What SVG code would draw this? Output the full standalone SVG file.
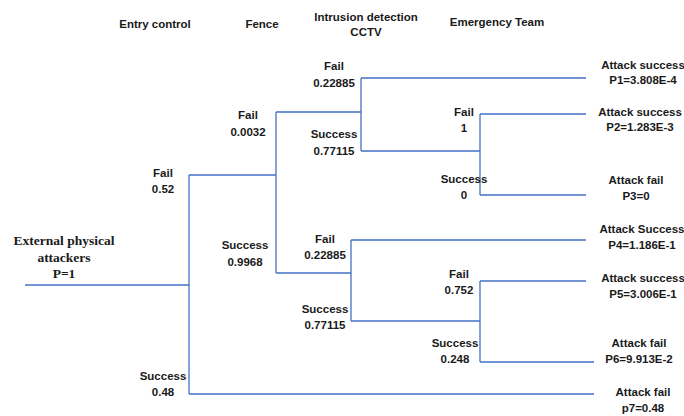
<svg xmlns="http://www.w3.org/2000/svg" width="684" height="416" viewBox="0 0 684 416">
<style>
.t{font-family:"Liberation Sans",Arial,sans-serif;font-weight:bold;font-size:11.5px;fill:#1a1a1a;text-anchor:middle}
.s{font-family:"Liberation Serif","Times New Roman",serif;font-weight:bold;font-size:13.5px;fill:#1a1a1a;text-anchor:middle}
.c{fill:none;stroke:#4472C4;stroke-width:1.3}
</style>
<rect width="684" height="416" fill="#fff"/>
<g id="headers">
<text class="t" x="155" y="28">Entry control</text>
<text class="t" x="262" y="28">Fence</text>
<text class="t" x="366" y="21">Intrusion detection</text>
<text class="t" x="366" y="36">CCTV</text>
<text class="t" x="497" y="26">Emergency Team</text>
</g>
<g id="connectors">
<path class="c" d="M25 285H189M189 175V394M189 175H276M276 112V273M276 112H361M361 78V151M361 78H586M361 151H480M480 114V195M480 114H586M480 195H586M276 273H351M351 240V321M351 240H586M351 321H480M480 281V362M480 281H586M480 362H594M189 394H594"/>
</g>
<g id="root"><text class="s" x="64" y="245">External physical</text><text class="s" x="64" y="262">attackers</text><text class="s" x="64" y="278">P=1</text></g>
<g id="ec-fail"><text class="t" x="163" y="177">Fail</text><text class="t" x="163" y="193">0.52</text></g>
<g id="ec-success"><text class="t" x="163" y="380">Success</text><text class="t" x="163" y="396">0.48</text></g>
<g id="fence-fail"><text class="t" x="248" y="119">Fail</text><text class="t" x="248" y="136">0.0032</text></g>
<g id="fence-success"><text class="t" x="245" y="249">Success</text><text class="t" x="245" y="266">0.9968</text></g>
<g id="ids-fail-1"><text class="t" x="334" y="70">Fail</text><text class="t" x="334" y="87">0.22885</text></g>
<g id="ids-success-1"><text class="t" x="334" y="138">Success</text><text class="t" x="334" y="155">0.77115</text></g>
<g id="ids-fail-2"><text class="t" x="325" y="243">Fail</text><text class="t" x="325" y="259">0.22885</text></g>
<g id="ids-success-2"><text class="t" x="325" y="313">Success</text><text class="t" x="325" y="329">0.77115</text></g>
<g id="et-fail-1"><text class="t" x="464" y="116">Fail</text><text class="t" x="464" y="132">1</text></g>
<g id="et-success-1"><text class="t" x="464" y="183">Success</text><text class="t" x="464" y="199">0</text></g>
<g id="et-fail-2"><text class="t" x="459" y="278">Fail</text><text class="t" x="459" y="294">0.752</text></g>
<g id="et-success-2"><text class="t" x="455" y="347">Success</text><text class="t" x="455" y="363">0.248</text></g>
<g id="p1"><text class="t" x="643" y="69">Attack success</text><text class="t" x="643" y="84">P1=3.808E-4</text></g>
<g id="p2"><text class="t" x="640" y="116">Attack success</text><text class="t" x="640" y="131">P2=1.283E-3</text></g>
<g id="p3"><text class="t" x="636" y="184">Attack fail</text><text class="t" x="636" y="200">P3=0</text></g>
<g id="p4"><text class="t" x="642" y="233">Attack Success</text><text class="t" x="642" y="249">P4=1.186E-1</text></g>
<g id="p5"><text class="t" x="643" y="282">Attack success</text><text class="t" x="643" y="298">P5=3.006E-1</text></g>
<g id="p6"><text class="t" x="639" y="347">Attack fail</text><text class="t" x="639" y="363">P6=9.913E-2</text></g>
<g id="p7"><text class="t" x="643" y="396">Attack fail</text><text class="t" x="643" y="412">p7=0.48</text></g>
</svg>
